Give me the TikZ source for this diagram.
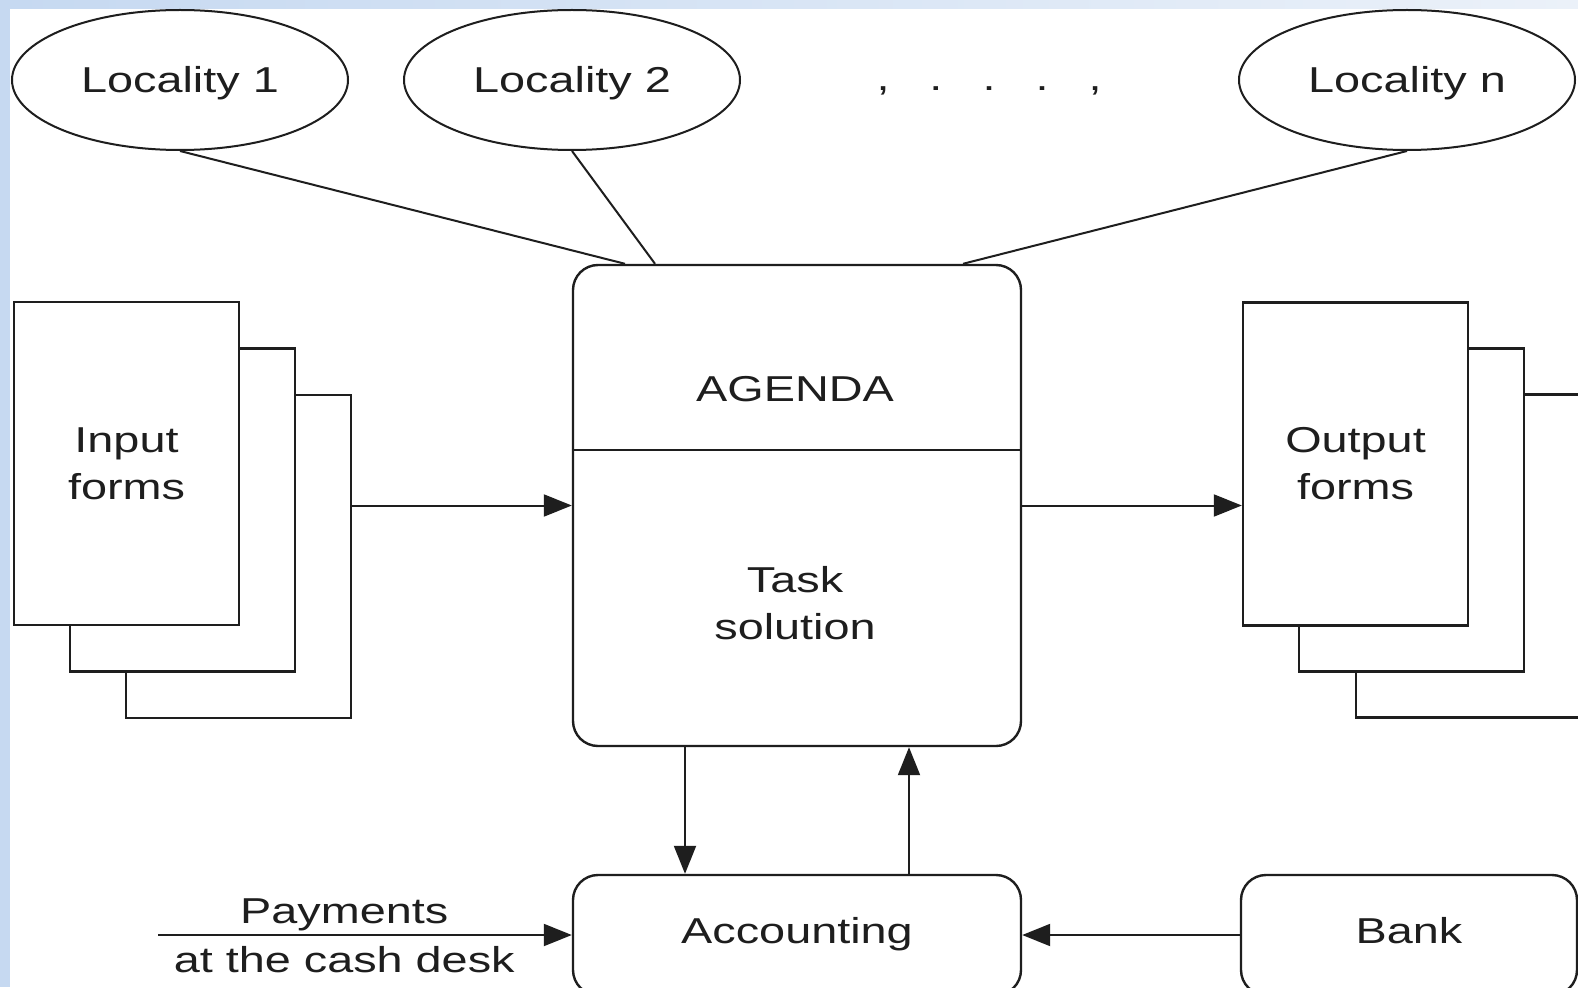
\documentclass[tikz,border=0pt]{standalone}
\usepackage{fontspec}
\setmainfont{Liberation Sans}[FakeStretch=1.3]
\usepackage{tikz}
\usetikzlibrary{arrows.meta}
\usetikzlibrary{shapes}
\usetikzlibrary{positioning}
\definecolor{ink}{HTML}{1E1E1E}
\definecolor{frameblue}{HTML}{C6D9F1}
\definecolor{framepale}{HTML}{EBF1F9}
\tikzset{
    place/.style={draw=ink, ellipse, line width=2pt, minimum width=336pt, minimum height=140pt,
        inner sep=0pt, text height=26pt, text depth=0pt},
    form/.style={draw=ink, fill=white, line width=2.4pt, minimum width=225pt, minimum height=323pt,
        inner sep=0pt, align=center},
    block/.style={draw=ink, rounded corners=25pt, line width=2.4pt, inner sep=0pt},
    tag/.style={inner sep=0pt, align=center},
    link/.style={draw=ink, line width=2pt},
    flow/.style={draw=ink, line width=2pt, -{Triangle[length=28pt,width=22pt]}},
}

\begin{document}
\begin{tikzpicture}[x=1pt, y=-1pt, font=\fontsize{36}{47}\selectfont, text=ink]
	\useasboundingbox (0,0) rectangle (1578,987);
	\clip (0,0) rectangle (1578,987);
	\fill[white] (0,0) rectangle (1578,987);
	\fill[frameblue] (0,0) rectangle (10,987);
	\shade[left color=frameblue, right color=framepale] (10,0) rectangle (1578,9);
	% localities
	\node[place] (loc1) at (180,80) {Locality 1};
	\node[place] (loc2) at (572,80) {Locality 2};
	\node[place] (locn) at (1407,80) {Locality n};
	\node[tag, text height=26pt, text depth=0pt] (dots) at (989,78)
		{,\hspace{40pt}.\hspace{40pt}.\hspace{40pt}.\hspace{40pt},};
	% agenda block
	\node[block, minimum width=448pt, minimum height=481pt] (core) at (797,505.5) {};
	\draw[link] (core.west |- 0,450) -- (core.east |- 0,450);
	\node[tag] (agenda) at (795,389) {AGENDA};
	\node[tag] (task) at (795,603) {Task\\solution};
	\draw[link] (loc1.south) -- ([xshift=-172pt]core.north);
	\draw[link] (loc2.south) -- ([xshift=-142pt]core.north);
	\draw[link] (locn.south) -- ([xshift=166pt]core.north);
	% input forms
	\node[form] (in3) at (238.5,556.5) {};
	\node[form] (in2) at (182.5,510) {};
	\node[form] (in1) at (126.5,463.5) {Input\\forms};
	% output forms
	\node[form] (out3) at (1468.5,556) {};
	\node[form] (out2) at (1411.5,510) {};
	\node[form] (out1) at (1355.5,464) {Output\\forms};
	\draw[flow] (in3.east |- core.west) -- (core.west);
	\draw[flow] (core.east) -- (out1.west |- core.east);
	% accounting and bank
	\node[block, minimum width=448pt, minimum height=120pt, text height=26pt, text depth=10pt] (acct) at (797,935) {Accounting};
	\node[block, minimum width=336pt, minimum height=120pt, text height=26pt, text depth=10pt] (bank) at (1409,935) {Bank};
	\draw[flow] ([xshift=-112pt]core.south) -- ([xshift=-112pt]acct.north);
	\draw[flow] ([xshift=112pt]acct.north) -- ([xshift=112pt]core.south);
	\draw[flow] (bank.west) -- (acct.east);
	\coordinate (cash) at (158,935);
	\draw[flow] (cash) -- node[pos=0.45, above, inner sep=3pt] (pay) {Payments}
		node[pos=0.45, below, inner sep=10pt] (desk) {at the cash desk} (acct.west);
\end{tikzpicture}
\end{document}
